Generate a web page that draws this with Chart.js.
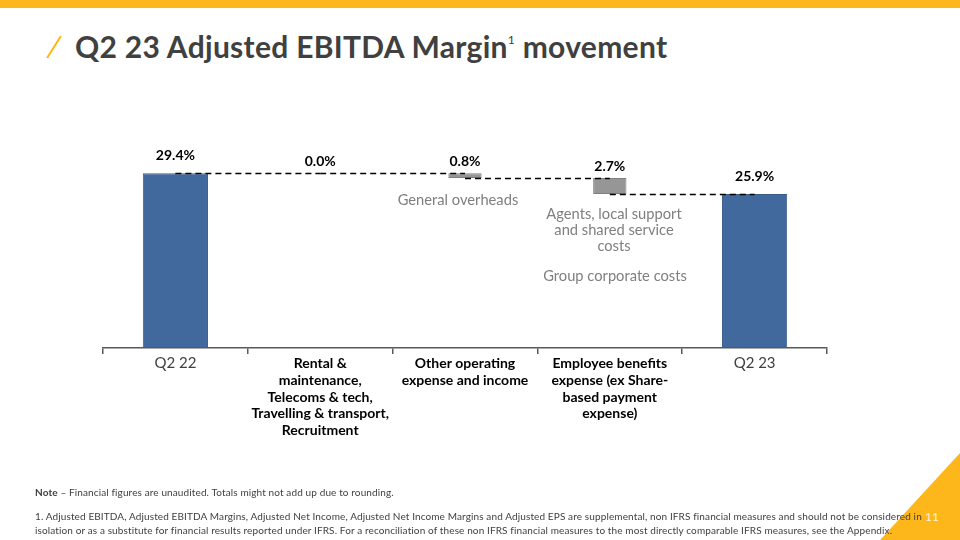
<!DOCTYPE html>
<html>
<head>
<meta charset="utf-8">
<script src="https://cdn.jsdelivr.net/npm/chart.js@4/dist/chart.umd.min.js"></script>
<style>
    html, body { margin: 0; padding: 0; background: #fff; }
    #slide { position: relative; width: 960px; height: 540px; overflow: hidden; font-family: Lato, "Open Sans", sans-serif; }
    #topband { position: absolute; left: 0; top: 0; width: 960px; height: 8px; background: #fdb71a; }
    #slash { position: absolute; left: 53px; top: 34px; width: 2px; height: 26px; background: #fdb71a; transform: rotate(32deg); }
    #title { position: absolute; left: 75px; top: 28px; font-size: 30px; letter-spacing: 0.3px; font-weight: bold; color: #404040; white-space: nowrap; }
    #title sup { font-size: 12px; vertical-align: 14px; font-weight: normal; }
    canvas { position: absolute; left: 0; top: 0; }
    .note { position: absolute; left: 35px; font-size: 10px; letter-spacing: 0.12px; color: #404040; white-space: nowrap; }
    .ann { position: absolute; font-size: 14.7px; color: #7f7f7f; text-align: center; line-height: 16px; transform: translateX(-50%); white-space: nowrap; }
    #corner { position: absolute; right: 0; bottom: 0; width: 0; height: 0; border-left: 80px solid transparent; border-bottom: 87px solid #fdb71a; }
    #pagenum { position: absolute; left: 925px; top: 509px; font-size: 12px; color: #fff4cc; }
</style>
</head>
<body>
<div id="slide">
    <div id="topband"></div>
    <div id="corner"></div>
    <div id="pagenum">11</div>
    <div id="slash"></div>
    <div id="title">Q2 23 Adjusted EBITDA Margin<sup>1</sup> movement</div>
    <canvas id="chart" width="960" height="540"></canvas>
    <div class="ann" style="left:458px; top:191px">General overheads</div>
    <div class="ann" style="left:614px; top:205px">Agents, local support<br>and shared service<br>costs</div>
    <div class="ann" style="left:615px; top:267px">Group corporate costs</div>
    <div class="note" style="top:486px"><b>Note</b> – Financial figures are unaudited. Totals might not add up due to rounding.</div>
    <div class="note" style="top:510px">1. Adjusted EBITDA, Adjusted EBITDA Margins, Adjusted Net Income, Adjusted Net Income Margins and Adjusted EPS are supplemental, non IFRS financial measures and should not be considered in</div>
    <div class="note" style="top:524px">isolation or as a substitute for financial results reported under IFRS. For a reconciliation of these non IFRS financial measures to the most directly comparable IFRS measures, see the Appendix.</div>
</div>
<script>
// Waterfall: Q2 22 margin -> cost movements -> Q2 23 margin
const categories = [
    ['Q2 22'],
    ['Rental &', 'maintenance,', 'Telecoms & tech,', 'Travelling & transport,', 'Recruitment'],
    ['Other operating', 'expense and income'],
    ['Employee benefits', 'expense (ex Share-', 'based payment', 'expense)'],
    ['Q2 23']
];
const kinds = ['total', 'change', 'change', 'change', 'total'];
const values = [29.4, -0.0, -0.8, -2.7, 25.9];
const valueLabels = ['29.4%', '0.0%', '0.8%', '2.7%', '25.9%'];
const yMin = 0;
const yMax = 35;

// floating ranges + running level after each step
const totalBars = [];
const changeBars = [];
const levels = [];
let running = 0;
values.forEach((v, i) => {
    if (kinds[i] === 'total') {
        totalBars.push([0, v]);
        changeBars.push(null);
        running = v;
    } else {
        totalBars.push(null);
        changeBars.push([Math.min(running, running + v), Math.max(running, running + v)]);
        running = running + v;
    }
    levels.push(running);
});

const waterfallExtras = {
    id: 'waterfallExtras',
    afterDatasetsDraw(chart) {
        const ctx = chart.ctx;
        const x = chart.scales.x, y = chart.scales.y;
        // dashed connectors, centre to centre
        ctx.save();
        ctx.strokeStyle = '#000';
        ctx.lineWidth = 1.5;
        ctx.setLineDash([6, 4]);
        for (let i = 0; i < levels.length - 1; i++) {
            const py = Math.round(y.getPixelForValue(levels[i])) + 0.5;
            ctx.beginPath();
            ctx.moveTo(x.getPixelForValue(i), py);
            ctx.lineTo(x.getPixelForValue(i + 1), py);
            ctx.stroke();
        }
        ctx.restore();

        // value labels
        ctx.save();
        ctx.font = 'bold 14px Lato, sans-serif';
        ctx.fillStyle = '#000';
        ctx.textAlign = 'center';
        ctx.textBaseline = 'middle';
        values.forEach((v, i) => {
            const range = kinds[i] === 'total' ? totalBars[i] : changeBars[i];
            const top = y.getPixelForValue(Math.max(range[0], range[1]));
            const off = kinds[i] === 'total' ? 18 : 12;
            ctx.fillText(valueLabels[i], x.getPixelForValue(i), top - off);
        });
        ctx.restore();
    }
};

new Chart(document.getElementById('chart'), {
    type: 'bar',
    data: {
        labels: categories,
        datasets: [
            {
                data: totalBars,
                backgroundColor: '#42699d',
                borderColor: '#3a5e8c',
                borderWidth: 1,
                borderSkipped: false,
                barPercentage: 0.45,
                categoryPercentage: 1,
                grouped: false
            },
            {
                data: changeBars,
                backgroundColor: '#969696',
                borderColor: '#7f7f7f',
                borderWidth: 1,
                borderSkipped: false,
                barPercentage: 0.23,
                categoryPercentage: 1,
                grouped: false
            }
        ]
    },
    options: {
        responsive: false,
        animation: false,
        layout: { padding: { left: 103, right: 133, top: 140, bottom: 0 } },
        plugins: { legend: { display: false }, tooltip: { enabled: false } },
        scales: {
            x: {
                afterFit(scale) { scale.height = 192; },
                border: { display: true, color: '#595959', width: 1.5 },
                grid: { display: true, drawOnChartArea: false, drawTicks: true, tickLength: 6, color: '#595959', lineWidth: 1.5 },
                ticks: {
                    autoSkip: false,
                    maxRotation: 0,
                    padding: 1,
                    color: (c) => (c.index === 0 || c.index === 4) ? '#404040' : '#000',
                    font: (c) => (c.index === 0 || c.index === 4)
                        ? { family: 'Lato', size: 15, weight: 'normal', lineHeight: 1.15 }
                        : { family: 'Lato', size: 14, weight: 'bold', lineHeight: 1.2 }
                }
            },
            y: { display: false, min: yMin, max: yMax }
        }
    },
    plugins: [waterfallExtras]
});
</script>
</body>
</html>
